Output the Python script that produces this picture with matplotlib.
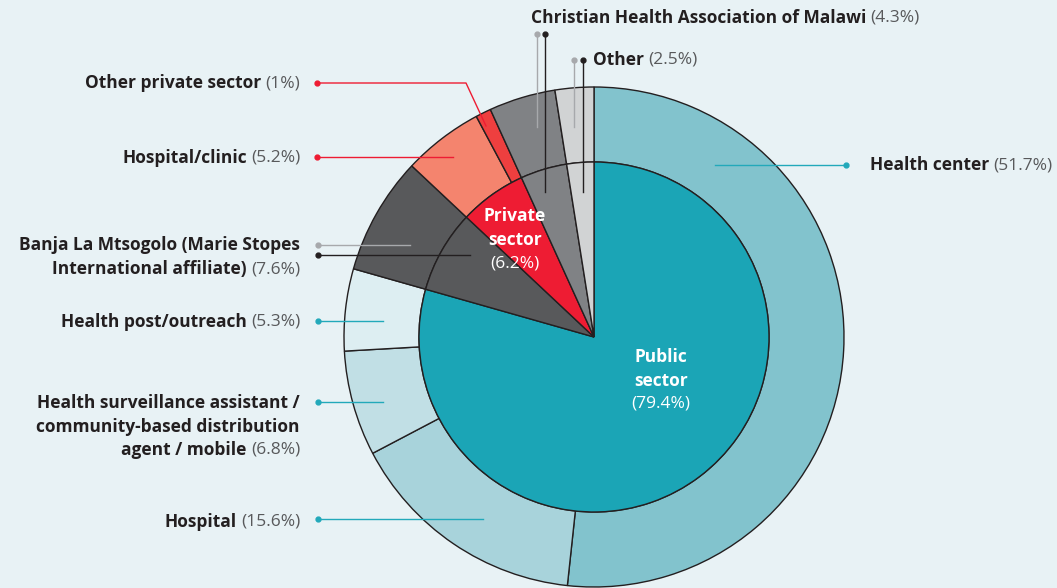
import matplotlib.pyplot as plt

# data
outer_labels = ['Health center', 'Hospital',
                'Health surveillance assistant /\ncommunity-based distribution\nagent / mobile',
                'Health post/outreach',
                'Banja La Mtsogolo (Marie Stopes\nInternational affiliate)',
                'Hospital/clinic', 'Other private sector',
                'Christian Health Association of Malawi', 'Other']
outer_values = [51.7, 15.6, 6.8, 5.3, 7.6, 5.2, 1.0, 4.3, 2.5]
outer_pct = ['51.7%', '15.6%', '6.8%', '5.3%', '7.6%', '5.2%', '1%', '4.3%', '2.5%']
inner_labels = ['Public\nsector', 'Banja', 'Private\nsector', 'CHAM', 'Other']
inner_values = [79.4, 7.6, 6.2, 4.3, 2.5]

outer_colors = ['#82C3CD', '#A8D3DB', '#C1DFE5', '#DDEEF2', '#58595B',
                '#F4846E', '#EE3F3F', '#808285', '#D1D3D4']
inner_colors = ['#1BA5B6', '#58595B', '#EE1C33', '#808285', '#D1D3D4']

W, H = 1057, 588
BG = '#E8F2F5'
DARK = '#231F20'
GREY_TXT = '#58595B'
TEAL = '#22A9BA'
RED = '#EE1C33'
LGREY = '#A7A9AC'

plt.rcParams['font.family'] = ['Open Sans', 'DejaVu Sans']

fig = plt.figure(figsize=(W / 100, H / 100), dpi=100, facecolor=BG)
ax = fig.add_axes([0, 0, 1, 1])
ax.set_facecolor(BG)

cx, cy = 594, H - 337
R_out, R_in = 250, 175
edge = dict(edgecolor=DARK, linewidth=1.0)

ax.pie(outer_values, colors=outer_colors, radius=R_out, center=(cx, cy),
       startangle=90, counterclock=False, frame=True,
       wedgeprops=dict(width=R_out - R_in, **edge))
ax.pie(inner_values, colors=inner_colors, radius=R_in, center=(cx, cy),
       startangle=90, counterclock=False, frame=True,
       wedgeprops=edge)

ax.set_xlim(0, W)
ax.set_ylim(0, H)
ax.set_aspect('auto')
ax.axis('off')

renderer = fig.canvas.get_renderer()
FS = 12.5


def py(y):
    return H - y


def label(x, y, bold, reg, align='right', color=DARK, rcolor=GREY_TXT, fs=FS):
    # bold label followed by a regular "(x%)" part on the same line
    if align == 'right':
        t = ax.text(x, py(y), reg, ha='right', va='center', fontsize=fs, color=rcolor)
        w = t.get_window_extent(renderer).width
        ax.text(x - w - 4, py(y), bold, ha='right', va='center', fontsize=fs,
                color=color, fontweight='bold')
    else:
        t = ax.text(x, py(y), bold, ha='left', va='center', fontsize=fs,
                    color=color, fontweight='bold')
        w = t.get_window_extent(renderer).width
        ax.text(x + w + 4, py(y), reg, ha='left', va='center', fontsize=fs, color=rcolor)


def multiline(x, ys, text, reg):
    lines = text.split('\n')
    for yy, ln in zip(ys[:-1], lines[:-1]):
        ax.text(x, py(yy), ln, ha='right', va='center', fontsize=FS,
                color=DARK, fontweight='bold')
    label(x, ys[-1], lines[-1], reg)


def pct(i):
    return '(' + outer_pct[i] + ')'


# outer labels
label(870, 165, outer_labels[0], pct(0), align='left')
label(300, 522, outer_labels[1], pct(1))
multiline(300, [403, 427, 450], outer_labels[2], pct(2))
label(300, 322, outer_labels[3], pct(3))
multiline(300, [245, 269], outer_labels[4], pct(4))
label(300, 158, outer_labels[5], pct(5))
label(300, 83, outer_labels[6], pct(6))
label(531, 18, outer_labels[7], pct(7), align='left')
label(593, 60, outer_labels[8], pct(8), align='left')

# inner labels
for x, ys, txt, v in [(661, [357, 381, 404], inner_labels[0], inner_values[0]),
                      (515, [216, 240, 263], inner_labels[2], inner_values[2])]:
    l1, l2 = txt.split('\n')
    ax.text(x, py(ys[0]), l1, ha='center', va='center', fontsize=FS,
            color='white', fontweight='bold')
    ax.text(x, py(ys[1]), l2, ha='center', va='center', fontsize=FS,
            color='white', fontweight='bold')
    ax.text(x, py(ys[2]), '(%.1f%%)' % v, ha='center', va='center', fontsize=FS,
            color='white')

# leader lines (dot at label end)
leaders = [
    ([(846, 165), (715, 165)], TEAL),
    ([(318, 519), (483, 519)], TEAL),
    ([(318, 402), (383, 402)], TEAL),
    ([(318, 321), (383, 321)], TEAL),
    ([(318, 245), (410, 245)], LGREY),
    ([(318, 255), (470, 255)], DARK),
    ([(317, 157), (453, 157)], RED),
    ([(317, 83), (466, 83), (486, 126)], RED),
    ([(537, 34), (537, 127)], LGREY),
    ([(545, 34), (545, 192)], DARK),
    ([(574, 60), (574, 127)], LGREY),
    ([(583, 60), (583, 192)], DARK),
]
for pts, c in leaders:
    xs = [p[0] for p in pts]
    ys = [py(p[1]) for p in pts]
    ax.plot(xs, ys, color=c, lw=1.0, zorder=5)
    ax.plot(xs[0], ys[0], 'o', color=c, ms=3.5, zorder=5)

fig.savefig('out.png', dpi=100, facecolor=BG)
